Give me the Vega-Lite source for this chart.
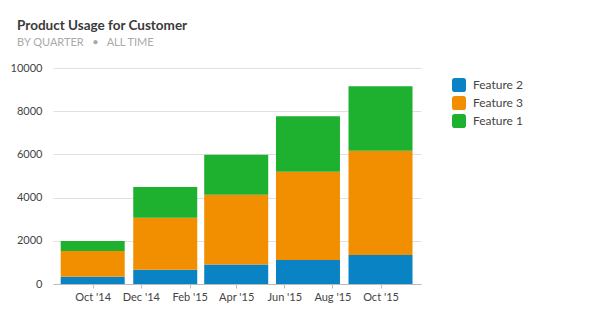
{
  "$schema": "https://vega.github.io/schema/vega-lite/v6.json",
  "width": 368,
  "height": 216,
  "padding": {"left": 10, "top": 18, "right": 10, "bottom": 10},
  "background": "white",
  "title": {
    "text": "Product Usage for Customer",
    "subtitle": "BY QUARTER\u00a0\u00a0\u00a0•\u00a0\u00a0\u00a0ALL TIME",
    "anchor": "start",
    "frame": "bounds",
    "dx": 7,
    "font": "Lato",
    "fontSize": 13.5,
    "fontWeight": "bold",
    "color": "#3a3a3a",
    "subtitleFont": "Lato",
    "subtitleFontSize": 11,
    "subtitleColor": "#aaaaaa",
    "subtitlePadding": 5,
    "offset": 14
  },
  "data": {
    "values": [
      {"date": "2014-10-01T00:00:00", "feature": "Feature 2", "usage": 340},
      {"date": "2014-10-01T00:00:00", "feature": "Feature 3", "usage": 1190},
      {"date": "2014-10-01T00:00:00", "feature": "Feature 1", "usage": 460},
      {"date": "2015-01-01T00:00:00", "feature": "Feature 2", "usage": 660},
      {"date": "2015-01-01T00:00:00", "feature": "Feature 3", "usage": 2410},
      {"date": "2015-01-01T00:00:00", "feature": "Feature 1", "usage": 1420},
      {"date": "2015-04-01T00:00:00", "feature": "Feature 2", "usage": 905},
      {"date": "2015-04-01T00:00:00", "feature": "Feature 3", "usage": 3230},
      {"date": "2015-04-01T00:00:00", "feature": "Feature 1", "usage": 1850},
      {"date": "2015-07-01T00:00:00", "feature": "Feature 2", "usage": 1110},
      {"date": "2015-07-01T00:00:00", "feature": "Feature 3", "usage": 4090},
      {"date": "2015-07-01T00:00:00", "feature": "Feature 1", "usage": 2565},
      {"date": "2015-10-01T00:00:00", "feature": "Feature 2", "usage": 1345},
      {"date": "2015-10-01T00:00:00", "feature": "Feature 3", "usage": 4825},
      {"date": "2015-10-01T00:00:00", "feature": "Feature 1", "usage": 2985}
    ]
  },
  "transform": [
    {"calculate": "indexof(['Feature 2','Feature 3','Feature 1'], datum.feature)", "as": "stackOrder"}
  ],
  "mark": {"type": "bar", "width": 64},
  "encoding": {
    "x": {
      "field": "date",
      "type": "temporal",
      "scale": {"domain": [{"year": 2014, "month": 8, "date": 18}, {"year": 2015, "month": 11, "date": 15}]},
      "axis": {
        "title": null,
        "grid": false,
        "format": "%b '%y",
        "values": [
          {"year": 2014, "month": 10, "date": 1},
          {"year": 2014, "month": 12, "date": 1},
          {"year": 2015, "month": 2, "date": 1},
          {"year": 2015, "month": 4, "date": 1},
          {"year": 2015, "month": 6, "date": 1},
          {"year": 2015, "month": 8, "date": 1},
          {"year": 2015, "month": 10, "date": 1}
        ],
        "domainColor": "#bbbbbb",
        "tickColor": "#bbbbbb",
        "tickSize": 4,
        "labelFont": "Lato",
        "labelFontSize": 11,
        "labelColor": "#444444",
        "labelPadding": 3
      }
    },
    "y": {
      "field": "usage",
      "type": "quantitative",
      "stack": "zero",
      "scale": {"domain": [0, 10000]},
      "axis": {
        "title": null,
        "values": [0, 2000, 4000, 6000, 8000, 10000],
        "format": "d",
        "domain": false,
        "ticks": false,
        "gridColor": "#e0e0e0",
        "labelFont": "Lato",
        "labelFontSize": 11,
        "labelColor": "#444444",
        "labelPadding": 11
      }
    },
    "color": {
      "field": "feature",
      "type": "nominal",
      "scale": {
        "domain": ["Feature 2", "Feature 3", "Feature 1"],
        "range": ["#0983c4", "#f18f00", "#1db12f"]
      },
      "legend": {
        "title": null,
        "offset": 21,
        "padding": 10,
        "symbolType": "M -1 -0.6 Q -1 -1 -0.6 -1 L 0.6 -1 Q 1 -1 1 -0.6 L 1 0.6 Q 1 1 0.6 1 L -0.6 1 Q -1 1 -1 0.6 Z",
        "symbolSize": 196,
        "symbolStrokeWidth": 0,
        "symbolOpacity": 1,
        "labelFont": "Lato",
        "labelFontSize": 12,
        "labelColor": "#444444",
        "labelOffset": 7,
        "rowPadding": 4
      }
    },
    "order": {"field": "stackOrder"}
  },
  "config": {"view": {"stroke": null}}
}
